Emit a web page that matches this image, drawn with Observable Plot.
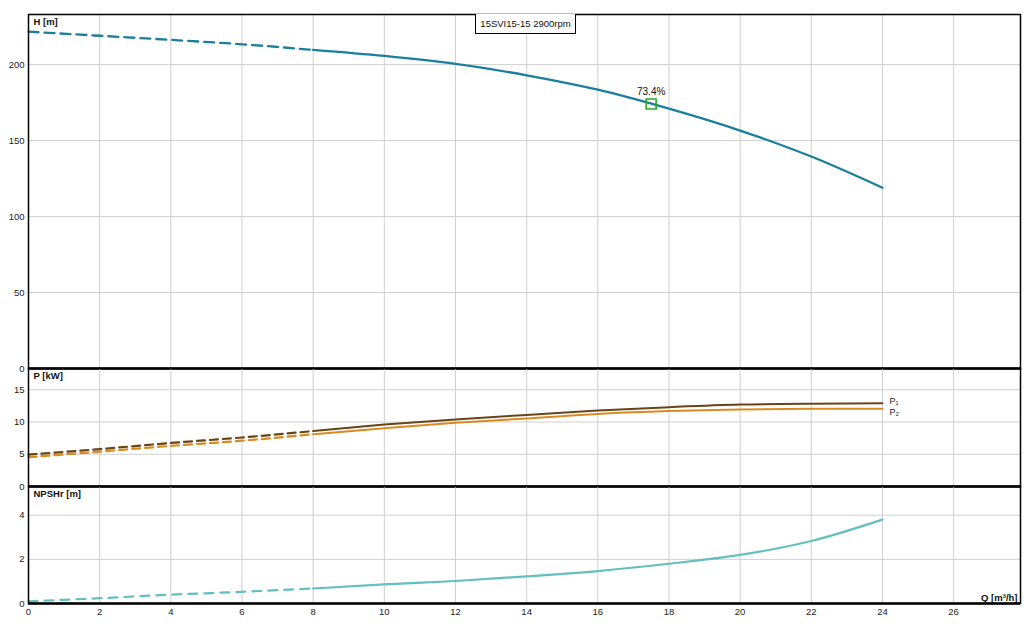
<!DOCTYPE html>
<html>
<head>
<meta charset="utf-8">
<script src="https://cdn.jsdelivr.net/npm/d3@7"></script>
<script src="https://cdn.jsdelivr.net/npm/@observablehq/plot@0.6"></script>
<style>
  html, body { margin: 0; padding: 0; background: #fff; }
  #wrap { position: relative; width: 1031px; height: 629px; font-family: "Liberation Sans", Arial, sans-serif; }
  #wrap svg { position: absolute; left: 0; overflow: visible; }
  #title { position: absolute; left: 475px; top: 14px; width: 101px; height: 20px; border: 1px solid #000; border-top: none;
           box-sizing: border-box; background: #fff; font-size: 9.5px; line-height: 19px; text-align: center; color: #111; z-index: 5; }
</style>
</head>
<body>
<div id="wrap"><div id="title">15SVI15-15 2900rpm</div></div>
<script>
// ---- data ----
const flow   = [0, 2, 4, 6, 8, 10, 12, 14, 16, 18, 20, 22, 24];
const head   = [221.7, 219.0, 216.3, 213.4, 209.7, 205.7, 200.5, 193.0, 183.5, 171.0, 156.6, 139.5, 119.0];
const power1 = [4.95, 5.8, 6.75, 7.6, 8.6, 9.6, 10.4, 11.1, 11.8, 12.3, 12.7, 12.85, 12.9];
const power2 = [4.55, 5.4, 6.3, 7.1, 8.1, 9.05, 9.9, 10.55, 11.25, 11.7, 11.95, 12.05, 12.06];
const npshr  = [0.1, 0.24, 0.4, 0.53, 0.68, 0.87, 1.02, 1.23, 1.47, 1.8, 2.2, 2.83, 3.8];
const dashedUntil = 8;
const effQ = [17.5];
const effH = [174.1];
const effLabel = ["73.4%"];
const xTicks = [0, 2, 4, 6, 8, 10, 12, 14, 16, 18, 20, 22, 24, 26];
const hTicks = [0, 50, 100, 150, 200];
const pTicks = [0, 5, 10, 15];
const nTicks = [0, 2, 4];
const xMax = 27.88;
const hMax = 233;
const pMax = 18.3;
const nMax = 5.3;

(function () {
const rows = flow.map((q, i) => ({q, h: head[i], p1: power1[i], p2: power2[i], n: npshr[i]}));
const dashRows = rows.filter(d => d.q <= dashedUntil);
const solidRows = rows.filter(d => d.q >= dashedUntil);
const last = rows[rows.length - 1];
const eff = effQ.map((q, i) => ({q, h: effH[i], t: effLabel[i]}));

const FONT = "'Liberation Sans', Arial, sans-serif";
const W = 1031, ML = 28, MR = 11;
const gridC = "#cfcfcf";
const cH = "#1b7f9c", cP1 = "#6b4416", cP2 = "#d98b22", cN = "#63bfc0";

function base(opts) {
  return Object.assign({
    width: W, marginLeft: ML, marginRight: MR,
    x: {domain: [0, xMax], axis: null},
    style: {fontFamily: FONT, overflow: "visible", background: "transparent", color: "#222"}
  }, opts);
}
function yAxis(ticks) {
  return Plot.axisY(ticks, {tickSize: 0, tickPadding: 4, label: null, fontSize: 9.5});
}
function cornerLabel(t) {
  return Plot.text([t], {text: d => d, frameAnchor: "top-left", dx: 5, dy: 4, lineAnchor: "top",
    textAnchor: "start", fontWeight: "bold", fontSize: 9.5, fill: "#111"});
}

const wrap = document.getElementById("wrap");

// ---- H panel ----
const hPlot = Plot.plot(base({
  height: 370, marginTop: 14, marginBottom: 2,
  y: {domain: [0, hMax], axis: null},
  marks: [
    Plot.gridX(xTicks, {stroke: gridC, strokeOpacity: 1}),
    Plot.gridY(hTicks, {stroke: gridC, strokeOpacity: 1}),
    yAxis(hTicks),
    Plot.line(dashRows, {x: "q", y: "h", stroke: cH, strokeWidth: 2.3, strokeDasharray: "10,6", curve: "monotone-x"}),
    Plot.line(solidRows, {x: "q", y: "h", stroke: cH, strokeWidth: 2.3, curve: "monotone-x"}),
    Plot.dot(eff, {x: "q", y: "h", symbol: "square", r: 5.6, stroke: "#2aa52a", strokeWidth: 1.6, fill: "none"}),
    Plot.text(eff, {x: "q", y: "h", text: "t", dy: -12, fontSize: 10, fill: "#111"}),
    cornerLabel("H [m]"),
    Plot.frame({stroke: "#000", strokeWidth: 1.5}),
    Plot.ruleY([0], {stroke: "#000", strokeWidth: 2.5})
  ]
}));
hPlot.style.top = "0px";
wrap.appendChild(hPlot);

// ---- P panel ----
const pPlot = Plot.plot(base({
  height: 122, marginTop: 2, marginBottom: 2,
  y: {domain: [0, pMax], axis: null},
  marks: [
    Plot.gridX(xTicks, {stroke: gridC, strokeOpacity: 1}),
    Plot.gridY(pTicks, {stroke: gridC, strokeOpacity: 1}),
    yAxis(pTicks),
    Plot.line(dashRows, {x: "q", y: "p2", stroke: cP2, strokeWidth: 2.2, strokeDasharray: "8,5", curve: "monotone-x"}),
    Plot.line(dashRows, {x: "q", y: "p1", stroke: cP1, strokeWidth: 2.2, strokeDasharray: "8,5", curve: "monotone-x"}),
    Plot.line(solidRows, {x: "q", y: "p2", stroke: cP2, strokeWidth: 2, curve: "monotone-x"}),
    Plot.line(solidRows, {x: "q", y: "p1", stroke: cP1, strokeWidth: 2, curve: "monotone-x"}),
    Plot.text([last], {x: "q", y: "p1", text: () => "P\u2081", dx: 7, dy: -2, textAnchor: "start", fontSize: 9, fill: "#222"}),
    Plot.text([last], {x: "q", y: "p2", text: () => "P\u2082", dx: 7, dy: 3, textAnchor: "start", fontSize: 9, fill: "#222"}),
    cornerLabel("P [kW]"),
    Plot.frame({stroke: "#000", strokeWidth: 1.5}),
    Plot.ruleY([0], {stroke: "#000", strokeWidth: 2.5})
  ]
}));
pPlot.style.top = "366px";
wrap.appendChild(pPlot);

// ---- NPSHr panel ----
const nPlot = Plot.plot(base({
  height: 145, marginTop: 2, marginBottom: 26,
  y: {domain: [0, nMax], axis: null},
  marks: [
    Plot.gridX(xTicks, {stroke: gridC, strokeOpacity: 1}),
    Plot.gridY(nTicks, {stroke: gridC, strokeOpacity: 1}),
    yAxis(nTicks),
    Plot.axisX(xTicks, {tickSize: 0, tickPadding: 5, label: null, fontSize: 9.5}),
    Plot.line(dashRows, {x: "q", y: "n", stroke: cN, strokeWidth: 2.2, strokeDasharray: "9,7", curve: "monotone-x"}),
    Plot.line(solidRows, {x: "q", y: "n", stroke: cN, strokeWidth: 2.2, curve: "monotone-x"}),
    cornerLabel("NPSHr [m]"),
    Plot.text(["Q [m\u00b3/h]"], {text: d => d, frameAnchor: "bottom-right", dx: -3, dy: -3, lineAnchor: "bottom",
      textAnchor: "end", fontWeight: "bold", fontSize: 9.5, fill: "#111"}),
    Plot.frame({stroke: "#000", strokeWidth: 1.5}),
    Plot.ruleY([0], {stroke: "#000", strokeWidth: 2.5})
  ]
}));
nPlot.style.top = "484px";
wrap.appendChild(nPlot);
})();
</script>
</body>
</html>
